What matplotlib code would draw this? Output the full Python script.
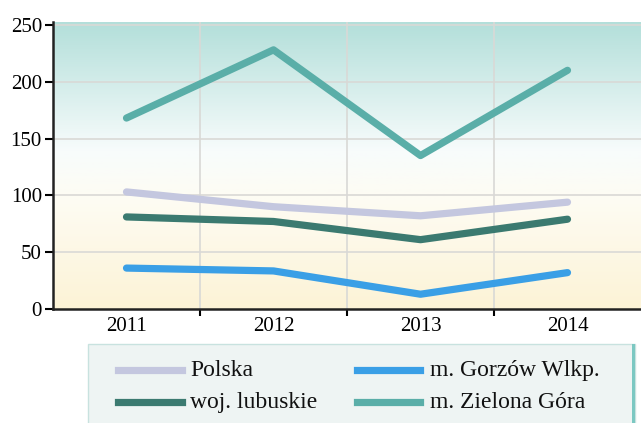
import numpy as np
import matplotlib.pyplot as plt
from matplotlib.colors import LinearSegmentedColormap
from matplotlib.lines import Line2D
from matplotlib.patches import Rectangle

plt.rcParams['font.family'] = ['Liberation Serif', 'DejaVu Serif']

years = ['2011', '2012', '2013', '2014']
names = ['Polska', 'woj. lubuskie', 'm. Gorzów Wlkp.', 'm. Zielona Góra']
polska = [103, 90, 82, 94]
lubuskie = [81, 77, 61, 79]
gorzow = [36, 33.5, 13, 32]
zielona = [168, 228, 135, 210]
colors = ['#c4c7df', '#3b7a70', '#3a9fe6', '#5aaea8']

fig = plt.figure(figsize=(6.41, 4.23), dpi=100)
ax = fig.add_axes([53 / 641, 114 / 423, 588 / 641, 287 / 423])

x = np.arange(len(years))
ax.set_xlim(-0.5, len(years) - 0.5)
ax.set_ylim(0, 252.5)

# background gradient: teal at the top, white in the middle, pale yellow at the bottom
bg = LinearSegmentedColormap.from_list('bg', [(0, '#fcf3d6'), (0.38, '#fefcf3'),
                                              (0.55, '#f8fcfc'), (1, '#b3dfda')])
grad = np.linspace(0, 1, 256).reshape(-1, 1)
ax.imshow(grad, cmap=bg, aspect='auto', origin='lower',
          extent=[-0.5, len(years) - 0.5, 0, 252.5], zorder=0)

# grid
for yv in range(50, 251, 50):
    ax.axhline(yv, color='#d9d9d6', lw=1.2, zorder=1)
for xv in x[:-1] + 0.5:
    ax.axvline(xv, color='#d9d9d6', lw=1.2, zorder=1)

for vals, c in zip([polska, lubuskie, gorzow, zielona], colors):
    ax.plot(x, vals, color=c, lw=5.2, solid_capstyle='round',
            solid_joinstyle='round', zorder=3)

ax.set_yticks(range(0, 251, 50))
ax.set_xticks(x[:-1] + 0.5, minor=False)
ax.set_xticklabels([])
ax.set_xticks(x, minor=True)
ax.set_xticklabels(years, minor=True)
ax.tick_params(axis='x', which='minor', length=0, pad=6, labelsize=15)
ax.tick_params(axis='x', which='major', length=5, width=1.5, direction='out')
ax.tick_params(axis='y', length=6, width=1.5, direction='out', labelsize=15, pad=2)
for s in ['top', 'right']:
    ax.spines[s].set_visible(False)
for s in ['left', 'bottom']:
    ax.spines[s].set_linewidth(1.8)
    ax.spines[s].set_color('#222222')

# legend box
fig.add_artist(Rectangle((88 / 641, -0.05), 547 / 641, 79 / 423 + 0.05,
                         transform=fig.transFigure, facecolor='#eef4f3',
                         edgecolor='#c8e2df', lw=1))
fig.add_artist(Rectangle((632 / 641, -0.05), 3 / 641, 79 / 423 + 0.05,
                         transform=fig.transFigure, facecolor='#7cc8c2',
                         edgecolor='none'))
handle_x = [(118, 182), (118, 182), (357, 420), (357, 420)]
text_x = [190, 190, 430, 430]
rows = [370, 402, 370, 402]
for name, c, hx, tx, ry in zip(names, colors, handle_x, text_x, rows):
    yf = 1 - ry / 423
    fig.add_artist(Line2D([hx[0] / 641, hx[1] / 641], [yf, yf],
                          transform=fig.transFigure, color=c, lw=5.2))
    fig.text(tx / 641, yf, name, fontsize=17, va='center', ha='left',
             color='#111111')

fig.savefig('out.png', dpi=100)
